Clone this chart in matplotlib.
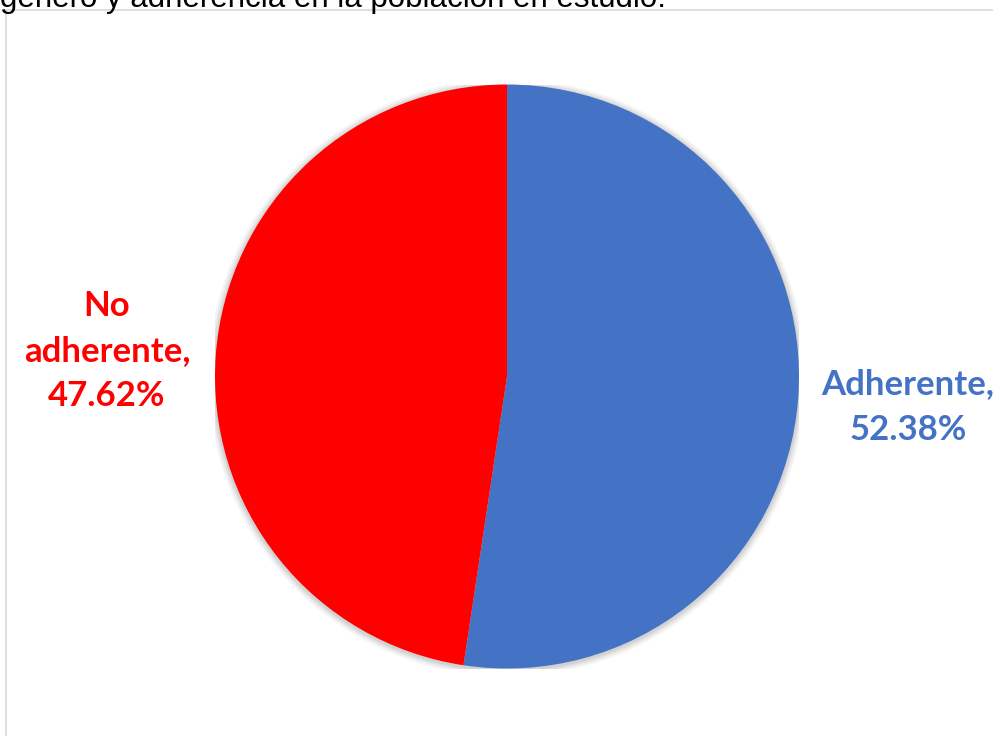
import matplotlib.pyplot as plt
from matplotlib.patches import Circle, Rectangle

labels = ["Adherente", "No adherente"]
shares = [52.38, 47.62]
label_text = ["Adherente,\n52.38%", "No\nadherente,\n47.62%"]
colors = ["#4472C4", "#FF0000"]
caption = "género y adherencia en la población en estudio."

W, H = 993, 736
fig = plt.figure(figsize=(W / 100, H / 100), dpi=100)

# chart frame (cut by the picture edges)
fig.patches.append(Rectangle((6 / W, -0.05), 1.1, (H - 10) / H + 0.05,
                             transform=fig.transFigure, fill=False,
                             edgecolor="#d9d9d9", linewidth=1.2))

# caption text, partly cut off at the top
fig.text(0.0, 1 - 7 / H, caption, ha="left", va="baseline",
         fontsize=22.5, family="Liberation Sans", color="black")

# pie area
cx, cy, r = 507, 376.5, 292
ax = fig.add_axes([(cx - r) / W, (H - cy - r) / H, 2 * r / W, 2 * r / H])

# soft shadow around the pie
for i, a in enumerate([0.03, 0.04, 0.05, 0.06]):
    ax.add_patch(Circle((0, -0.004), 1 + 0.006 * (4 - i), color="black",
                        alpha=a, linewidth=0, zorder=0))

ax.pie(shares, colors=colors, startangle=90, counterclock=False, radius=1,
       wedgeprops=dict(linewidth=0, zorder=2))
ax.set_xlim(-1, 1)
ax.set_ylim(-1, 1)
ax.set_aspect("equal")
ax.axis("off")

fig.text(908 / W, 1 - 407 / H, label_text[0], ha="center", va="center",
         fontsize=25, fontweight="bold", family="Lato", color=colors[0],
         linespacing=1.5)
fig.text(107 / W, 1 - 351 / H, label_text[1], ha="center", va="center",
         fontsize=25, fontweight="bold", family="Lato", color=colors[1],
         linespacing=1.5)

fig.savefig("out.png", dpi=100, facecolor="white")
